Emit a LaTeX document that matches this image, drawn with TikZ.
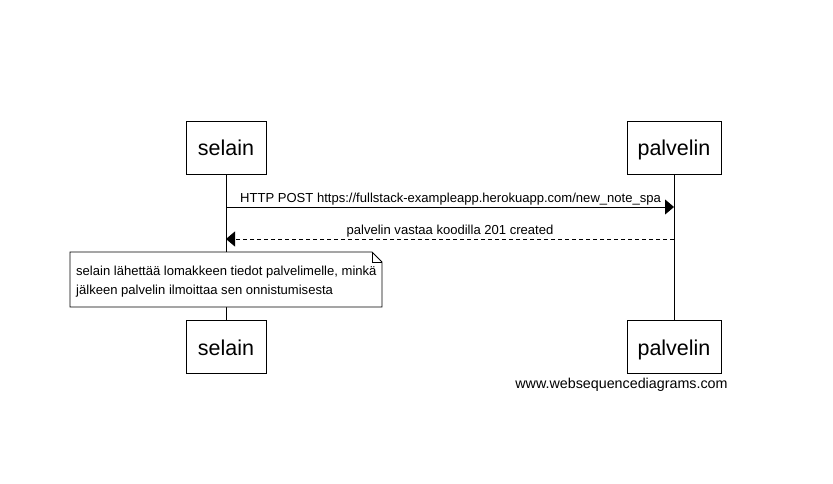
\documentclass[tikz,border=0pt]{standalone}
\usepackage{fontspec}
\setmainfont{Liberation Sans}
\usetikzlibrary{arrows.meta}
\begin{document}
\begin{tikzpicture}[x=1pt,y=-1pt,
  actor/.style={draw,line width=0.8pt,minimum width=80pt,minimum height=53pt,inner sep=0pt},
  atext/.style={font=\fontsize{21.5}{24}\selectfont,inner sep=0pt,anchor=base},
  msg/.style={line width=0.8pt,-{Triangle[length=9pt,width=15pt]}},
  lbl/.style={font=\fontsize{13.05}{15}\selectfont,inner sep=0pt},
  life/.style={line width=0.8pt}]
\useasboundingbox (0,0) rectangle (833,484);
\fill[white] (0,0) rectangle (833,484);
\node[actor] (s1) at (226,147.5) {};
\node[actor,minimum width=94pt] (p1) at (674,147.5) {};
\node[actor] (s2) at (226,346.5) {};
\node[actor,minimum width=94pt] (p2) at (674,346.5) {};
\node[atext] (s1t) at (226,156) {selain};
\node[atext] (p1t) at (674,156) {palvelin};
\node[atext] (s2t) at (226,355) {selain};
\node[atext] (p2t) at (674,355) {palvelin};
\draw[life] (s1.south) -- (s2.north);
\draw[life] (p1.south) -- (p2.north);
\coordinate (a1s) at (226,207);
\coordinate (a1e) at (674,207);
\coordinate (a2s) at (674,239);
\coordinate (a2e) at (226,239);
\draw[msg] (a1s) -- (a1e);
\node[lbl,anchor=base west] (t1) at (240,202) {HTTP POST https://fullstack-exampleapp.herokuapp.com/new\_note\_spa};
\draw[msg,dashed,dash pattern=on 4pt off 3pt] (a2s) -- (a2e);
\node[lbl,anchor=base] (t2) at (450,234) {palvelin vastaa koodilla 201 created};
\draw[line width=0.8pt,fill=white] (70,252) -- (372,252) -- (382,262) -- (382,307) -- (70,307) -- cycle;
\draw[line width=0.8pt] (372,252) -- (372,262) -- (382,262);
\node[lbl,anchor=base west,align=left] (n1) at (76,275) {selain lähettää lomakkeen tiedot palvelimelle, minkä};
\node[lbl,anchor=base west,align=left] (n2) at (76,294) {jälkeen palvelin ilmoittaa sen onnistumisesta};
\node[font=\fontsize{14.3}{16}\selectfont,inner sep=0pt,anchor=base] (w) at (621.5,388) {www.websequencediagrams.com};
\end{tikzpicture}
\end{document}
